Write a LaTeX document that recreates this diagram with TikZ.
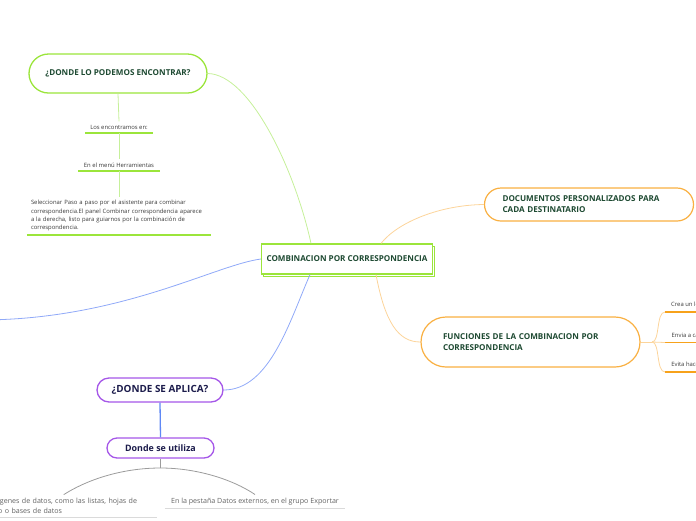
\documentclass[tikz,border=0pt]{standalone}
\usepackage{fontspec}
\setmainfont{Open Sans}
\usepackage{xcolor}
\definecolor{limeLine}  {HTML}{9BE53B}
\definecolor{limeSoft}  {HTML}{C6F09A}
\definecolor{darkGreen} {HTML}{1E4A32}
\definecolor{orangeLine}{HTML}{F9B042}
\definecolor{orangeSoft}{HTML}{FCD49A}
\definecolor{orangeBar} {HTML}{F7A21B}
\definecolor{purpleLine}{HTML}{A557E8}
\definecolor{navyText}  {HTML}{1B1B4B}
\definecolor{blueSoft}  {HTML}{90A9F8}
\definecolor{blueLine}  {HTML}{5F88F5}
\definecolor{greyArc}   {HTML}{9C9C9C}
\definecolor{greyBar}   {HTML}{DADADA}
\definecolor{leafText}  {HTML}{3A3A3A}
\usetikzlibrary{positioning, calc, shadows}
\tikzset{
    central/.style={rectangle, draw=limeLine, line width=1.2pt, fill=white,
                    minimum width=171pt, minimum height=30pt, inner sep=0pt,
                    text=darkGreen, font=\bfseries\fontsize{8.1}{10}\selectfont,
                    copy shadow={shadow xshift=2.2pt, shadow yshift=-2.2pt,
                                 draw=limeLine, fill=white}},
    gtopic/.style={rectangle, draw=limeLine, line width=1.3pt, fill=white,
                   inner sep=0pt, text=darkGreen,
                   font=\bfseries\fontsize{8.1}{10}\selectfont},
    otopic/.style={rectangle, draw=orangeLine, line width=1.2pt, fill=white,
                   align=left, text=darkGreen,
                   font=\bfseries\fontsize{8.1}{11}\selectfont},
    ptopic/.style={rectangle, draw=purpleLine, line width=1.3pt, fill=white,
                   inner sep=0pt, text=navyText},
    leaf/.style={inner xsep=4pt, inner ysep=3.5pt, text=leafText,
                 font=\fontsize{5.9}{8.3}\selectfont},
    sideleaf/.style={leaf, inner ysep=5pt, anchor=south west, minimum width=40pt,
                     align=left},
    gleaf/.style={inner xsep=4pt, inner ysep=3pt, text=leafText!80,
                  font=\fontsize{7.1}{10.5}\selectfont},
    lline/.style={-, limeSoft, line width=0.8pt},
    gbar/.style={-, limeLine, line width=1.3pt},
    oline/.style={-, orangeSoft, line width=0.8pt},
    obar/.style={-, orangeBar, line width=1.3pt},
    bline/.style={-, blueSoft, line width=0.8pt},
    arc/.style={-, greyArc, line width=0.8pt},
    greybar/.style={-, greyBar, line width=1pt},
}

\begin{document}
\begin{tikzpicture}[x=1pt, y=-1pt]
    \useasboundingbox (0,0) rectangle (696,520);
    \clip (0,0) rectangle (696,520);

    \node[central] (main) at (347,259) {COMBINACION POR CORRESPONDENCIA};

    % left branch
    \node[gtopic, minimum width=178pt, minimum height=39pt, rounded corners=19.5pt]
        (find) at (118,73.5) {¿DONDE LO PODEMOS ENCONTRAR?};
    \node[leaf, anchor=south, minimum width=67pt] (los) at (119,133)
        {Los encontramos en:};
    \node[leaf, anchor=south, minimum width=81pt] (menu) at (119,171)
        {En el menú Herramientas};
    \node[leaf, anchor=south, minimum width=184pt, text width=176pt, align=left]
        (sel) at (119,235)
        {Seleccionar Paso a paso por el asistente para combinar\\
         correspondencia.El panel Combinar correspondencia aparece\\
         a la derecha, listo para guiarnos por la combinación de\\
         correspondencia.};
    \draw[gbar] (los.south west) -- (los.south east);
    \draw[gbar] (menu.south west) -- (menu.south east);
    \draw[gbar] (sel.south west) -- (sel.south east);
    \draw[lline] (find.south) -- (los.north);
    \draw[lline] (los.south) -- (menu.north);
    \draw[lline] (menu.south) -- (sel.north);
    \draw[lline] (find.east) .. controls (250,74) and (295,170) .. ($(main.north)+(-36,0)$);

    % right branches
    \node[otopic, text width=173pt, inner xsep=18pt, inner ysep=0pt,
          minimum height=33pt, rounded corners=16.5pt] (docs) at (589,204.5)
        {DOCUMENTOS PERSONALIZADOS PARA\\CADA DESTINATARIO};
    \node[otopic, text width=175pt, inner xsep=22pt, inner ysep=0pt,
          minimum height=50pt, rounded corners=25pt] (func) at (530.5,342)
        {FUNCIONES DE LA COMBINACION POR\\CORRESPONDENCIA};
    \draw[oline] ($(main.north)+(34,0)$) .. controls (398,222) and (440,205) .. (docs.west);
    \draw[oline] ($(main.south)+(29,0)$) .. controls (385,322) and (398,342) .. (func.west);

    \coordinate (fr) at (652,342);
    \node[sideleaf] (crea) at (665,312) {Crea un lo};
    \node[sideleaf] (envia) at (665,342.5) {Envia a ca};
    \node[sideleaf] (evita) at (665,372) {Evita hace};
    \draw[obar] (crea.south west) -- (crea.south east);
    \draw[obar] (envia.south west) -- (envia.south east);
    \draw[obar] (evita.south west) -- (evita.south east);
    \draw[oline] (func.east) -- (fr);
    \draw[oline] (fr) .. controls (660,342) and (656,312) .. (crea.south west);
    \draw[oline] (fr) .. controls (658,342) and (659,342.5) .. (envia.south west);
    \draw[oline] (fr) .. controls (660,342) and (656,372) .. (evita.south west);

    % lower branches
    \coordinate (off) at (-20,320);
    \draw[bline] (main.west) .. controls (215,265) and (120,320) .. (off);

    \node[ptopic, minimum width=126pt, minimum height=24pt, rounded corners=12pt,
          font=\bfseries\fontsize{9.9}{11}\selectfont] (aplica) at (160,390)
        {¿DONDE SE APLICA?};
    \node[ptopic, minimum width=107pt, minimum height=20pt, rounded corners=10pt,
          font=\bfseries\fontsize{8.9}{10}\selectfont] (usa) at (160.5,448)
        {Donde se utiliza};
    \draw[bline] ($(main.south)+(-37,0)$) .. controls (290,320) and (270,390) .. (aplica.east);
    \draw[blueLine, line width=1.3pt] (aplica.south) -- (usa.north);

    \coordinate (fork) at (160.5,468);
    \node[gleaf, anchor=south west, text width=155pt, align=left] (src) at (-6,517)
        {lgenes de datos, como las listas, hojas de\\o o bases de datos};
    \node[gleaf, anchor=south, minimum width=180pt] (ext) at (255,508)
        {En la pestaña Datos externos, en el grupo Exportar};
    \draw[greybar] (src.south west) -- (src.south east);
    \draw[greybar] (ext.south west) -- (ext.south east);
    \draw[arc] (usa.south) -- (fork);
    \draw[arc] (fork) .. controls (125,468) and (90,478) .. ($(src.north)+(-12,0)$);
    \draw[arc] (fork) .. controls (196,468) and (232,479) .. (ext.north);
\end{tikzpicture}
\end{document}
